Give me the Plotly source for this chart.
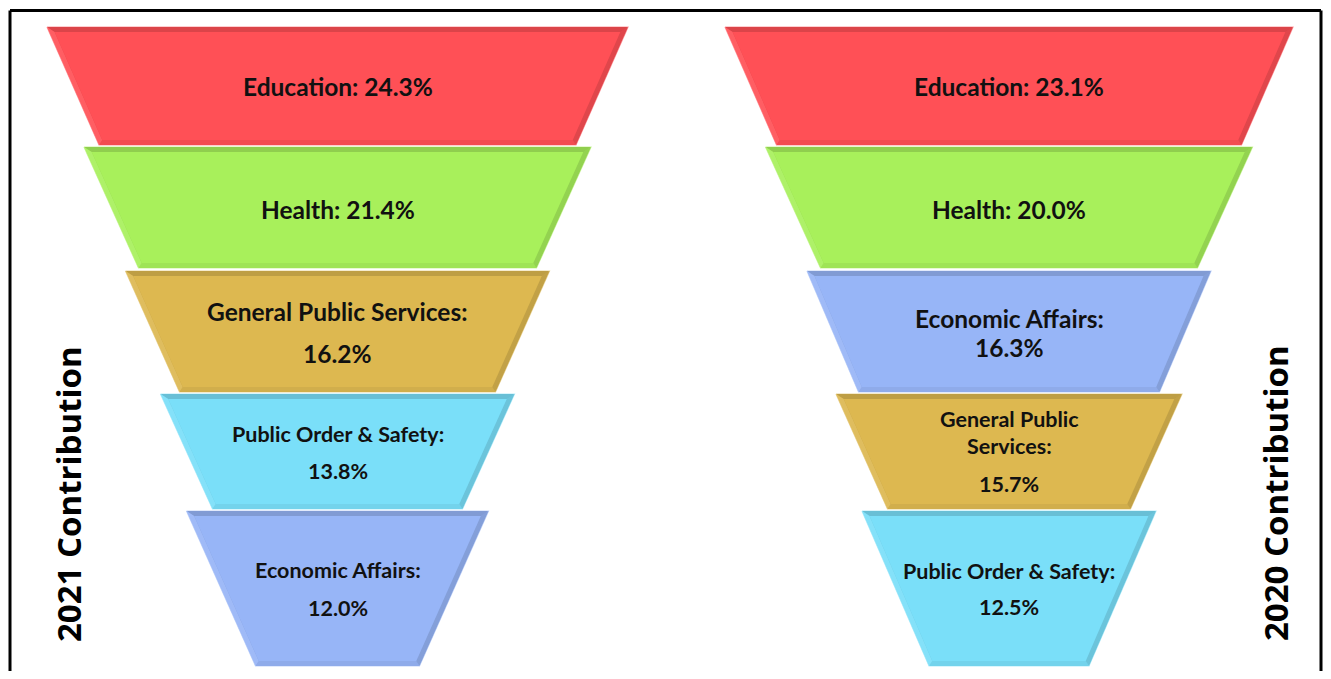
import math
import plotly.graph_objects as go

# --- data -------------------------------------------------------------
categories_2021 = ["Education", "Health", "General Public Services",
                   "Public Order & Safety", "Economic Affairs"]
share_2021 = [24.3, 21.4, 16.2, 13.8, 12.0]

categories_2020 = ["Education", "Health", "Economic Affairs",
                   "General Public Services", "Public Order & Safety"]
share_2020 = [23.1, 20.0, 16.3, 15.7, 12.5]

panel_titles = ["2021 Contribution", "2020 Contribution"]

# one colour per category, shared by both funnels
colors = {
    "Education": "#FF5056",
    "Health": "#A8F05B",
    "General Public Services": "#DDB850",
    "Public Order & Safety": "#7ADFF9",
    "Economic Affairs": "#97B5F7",
}

# --- layout geometry (page pixels, y grows downward) ------------------
W, H = 1331, 679
PAGE_PAD = 8  # default body margin of the html page
rows_y = [(27, 145), (147, 268), (271, 392), (394, 509), (511, 666)]

panels = [
    dict(cats=categories_2021, vals=share_2021, cx=337.5,
         top=[290.5, 253.5, 212, 177, 151], bot=[238.5, 199, 158, 125, 82],
         wrap=[None, None, "colon", "colon", "colon"],
         line_y=[[86], [209], [311, 353], [434, 471], [570, 608]],
         size=[24.5, 24.5, 24.5, 21.5, 21.5],
         title_x=68, title_y=494),
    dict(cats=categories_2020, vals=share_2020, cx=1009,
         top=[284, 243.5, 202, 173, 147], bot=[232.5, 188.5, 150.5, 121.5, 80],
         wrap=[None, None, "colon", "words", "colon"],
         line_y=[[86], [209], [318, 347], [419, 446, 484], [571, 607]],
         size=[24.5, 24.5, 24.5, 21.5, 21.5],
         title_x=1275, title_y=493),
]


def mix(hex_color, f):
    """f < 1 darkens toward black, f > 1 lightens toward white"""
    r, g, b = (int(hex_color[i:i + 2], 16) for i in (1, 3, 5))
    if f <= 1:
        r, g, b = r * f, g * f, b * f
    else:
        t = f - 1
        r, g, b = r + (255 - r) * t, g + (255 - g) * t, b + (255 - b) * t
    return f"rgb({int(r)},{int(g)},{int(b)})"


def label_lines(name, value, mode):
    pct = f"{value:.1f}%"
    if mode is None:
        return [f"{name}: {pct}"]
    if mode == "colon":
        return [f"{name}:", pct]
    # split a long name across two lines
    words = name.split()
    return [" ".join(words[:2]), " ".join(words[2:]) + ":", pct]


fig = go.Figure()
inset = 5

for p in panels:
    cx = p["cx"]
    for i, (name, val) in enumerate(zip(p["cats"], p["vals"])):
        y0, y1 = rows_y[i]
        a, b = p["top"][i], p["bot"][i]
        slope = (a - b) / (y1 - y0)
        k = inset * math.sqrt(1 + slope ** 2)
        ia = a - slope * inset - k
        ib = b + slope * inset - k
        iy0, iy1 = y0 + inset, y1 - inset
        outer = [(cx - a, y0), (cx + a, y0), (cx + b, y1), (cx - b, y1)]
        inner = [(cx - ia, iy0), (cx + ia, iy0), (cx + ib, iy1), (cx - ib, iy1)]
        base = colors[name]

        # base (outline + bevel background)
        xs = [pt[0] for pt in outer] + [outer[0][0]]
        ys = [pt[1] for pt in outer] + [outer[0][1]]
        fig.add_trace(go.Scatter(
            x=xs, y=ys, mode="lines", fill="toself",
            fillcolor=mix(base, 0.9), line=dict(color=mix(base, 1.45), width=1.2),
            hoverinfo="skip", showlegend=False))

        # bevel bands: top, right, bottom, left
        bands = [
            ([outer[0], outer[1], inner[1], inner[0]], 0.86),
            ([outer[1], outer[2], inner[2], inner[1]], 0.88),
            ([outer[2], outer[3], inner[3], inner[2]], 0.95),
            ([outer[3], outer[0], inner[0], inner[3]], 1.08),
        ]
        for quad, f in bands:
            fig.add_trace(go.Scatter(
                x=[q[0] for q in quad] + [quad[0][0]],
                y=[q[1] for q in quad] + [quad[0][1]],
                mode="lines", fill="toself", fillcolor=mix(base, f),
                line=dict(width=0), hoverinfo="skip", showlegend=False))

        # face
        fig.add_trace(go.Scatter(
            x=[q[0] for q in inner] + [inner[0][0]],
            y=[q[1] for q in inner] + [inner[0][1]],
            mode="lines", fill="toself", fillcolor=base, line=dict(width=0),
            name=name, showlegend=False,
            hovertemplate=f"<b>{name}</b><br>{val:.1f}%<extra></extra>"))

        for txt, ty in zip(label_lines(name, val, p["wrap"][i]), p["line_y"][i]):
            fig.add_annotation(
                x=cx, y=ty, xref="x", yref="y", text=f"<b>{txt}</b>", showarrow=False,
                font=dict(family="Lato", size=p["size"][i], color="#111111"),
                xanchor="center", yanchor="middle")

for p, title in zip(panels, panel_titles):
    fig.add_annotation(
        x=p["title_x"], y=p["title_y"], xref="x", yref="y", text=f"<b>{title}</b>",
        textangle=-90, showarrow=False,
        font=dict(family="Open Sans", size=33, color="#000000"),
        xanchor="center", yanchor="middle")

# frame: top, left and right edges (the bottom edge is off the picture)
x_left, x_right, y_top = 10, 1321, 10.5
for x0, y0, x1, y1 in [(x_left, y_top, x_right, y_top),
                       (x_left, y_top, x_left, H),
                       (x_right, y_top, x_right, H)]:
    fig.add_shape(type="line", xref="x", yref="y", x0=x0, y0=y0, x1=x1, y1=y1,
                  line=dict(color="#000000", width=3))

# axes map straight onto page pixels; keep the figure inside the body margins
fig_w, fig_h = W - 2 * PAGE_PAD, H - 2 * PAGE_PAD
fig.update_xaxes(range=[PAGE_PAD, PAGE_PAD + fig_w], visible=False, fixedrange=True)
fig.update_yaxes(range=[PAGE_PAD + fig_h, PAGE_PAD], visible=False, fixedrange=True)
fig.update_layout(
    width=fig_w, height=fig_h,
    margin=dict(l=0, r=0, t=0, b=0),
    paper_bgcolor="white", plot_bgcolor="white",
    hovermode="closest",
)

fig.write_html("out.html")
